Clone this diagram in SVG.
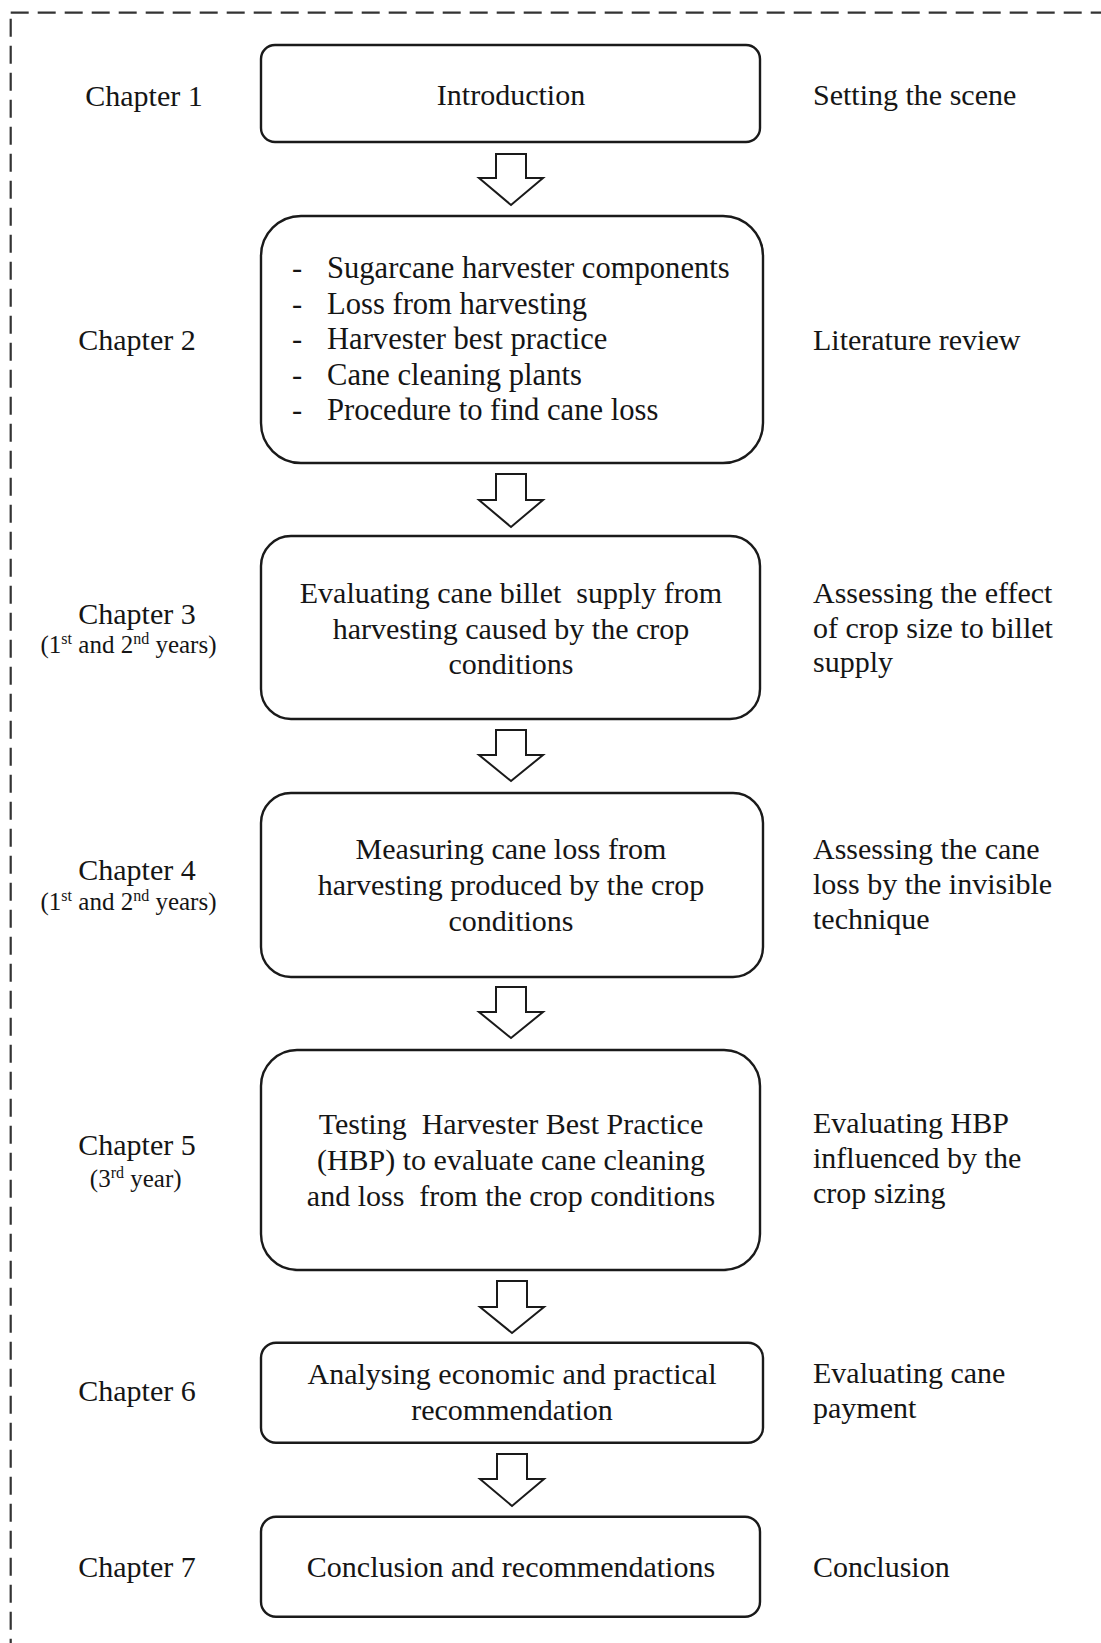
<svg xmlns="http://www.w3.org/2000/svg" width="1101" height="1643" viewBox="0 0 1101 1643">
<style>
text{font-family:"Liberation Serif","Times New Roman",serif;font-size:30px;fill:#151515}
.lbl{text-anchor:middle}
.mid{text-anchor:middle}
.sub{font-size:25px}
.li{font-size:30.6px}
.box{fill:#fff;stroke:#1a1a1a;stroke-width:2.4}
.arr{fill:#fff;stroke:#1a1a1a;stroke-width:2;stroke-linejoin:miter}
.frame{fill:none;stroke:#333;stroke-width:2.2;stroke-dasharray:18 9}
</style>
<rect width="1101" height="1643" fill="#fff"/>
<g id="frame">
<line class="frame" x1="10.7" y1="12.7" x2="1101" y2="12.7"/>
<line class="frame" x1="10.7" y1="12.7" x2="10.7" y2="1643" stroke-dashoffset="-6"/>
</g>
<g id="connectors">
<path class="arr" d="M496 154H526V178H543L511 205L479 178H496Z"/>
<path class="arr" d="M496 474H526V500H543L511 527L479 500H496Z"/>
<path class="arr" d="M496 730H526V755H543L511 781L479 755H496Z"/>
<path class="arr" d="M496 987H526V1012H543L511 1038L479 1012H496Z"/>
<path class="arr" d="M497 1281H527V1307H544L512 1333L480 1307H497Z"/>
<path class="arr" d="M497 1454H527V1479H544L512 1506L480 1479H497Z"/>
</g>
<g id="ch1">
<text class="lbl" x="144" y="106">Chapter 1</text>
<rect class="box" x="261" y="45" width="499" height="97" rx="14"/>
<text class="mid" x="511" y="105">Introduction</text>
<text x="813" y="105">Setting the scene</text>
</g>
<g id="ch2">
<text class="lbl" x="137" y="350">Chapter 2</text>
<rect class="box" x="261" y="216" width="502" height="247" rx="40"/>
<text class="li" x="292" y="278">-</text><text class="li" x="327" y="278">Sugarcane harvester components</text>
<text class="li" x="292" y="313.5">-</text><text class="li" x="327" y="313.5">Loss from harvesting</text>
<text class="li" x="292" y="349">-</text><text class="li" x="327" y="349">Harvester best practice</text>
<text class="li" x="292" y="384.5">-</text><text class="li" x="327" y="384.5">Cane cleaning plants</text>
<text class="li" x="292" y="420">-</text><text class="li" x="327" y="420">Procedure to find cane loss</text>
<text x="813" y="350">Literature review</text>
</g>
<g id="ch3">
<text class="lbl" x="137" y="624">Chapter 3</text>
<text class="lbl sub" x="128.5" y="653">(1<tspan font-size="16" dy="-9">st</tspan><tspan dy="9"> and 2</tspan><tspan font-size="16" dy="-9">nd</tspan><tspan dy="9"> years)</tspan></text>
<rect class="box" x="261" y="536" width="499" height="183" rx="30"/>
<text class="mid" x="511" y="603" xml:space="preserve">Evaluating cane billet  supply from</text>
<text class="mid" x="511" y="638.5">harvesting caused by the crop</text>
<text class="mid" x="511" y="674">conditions</text>
<text x="813" y="603">Assessing the effect</text>
<text x="813" y="637.5">of crop size to billet</text>
<text x="813" y="672">supply</text>
</g>
<g id="ch4">
<text class="lbl" x="137" y="880">Chapter 4</text>
<text class="lbl sub" x="128.5" y="910">(1<tspan font-size="16" dy="-9">st</tspan><tspan dy="9"> and 2</tspan><tspan font-size="16" dy="-9">nd</tspan><tspan dy="9"> years)</tspan></text>
<rect class="box" x="261" y="793" width="502" height="184" rx="30"/>
<text class="mid" x="511" y="859">Measuring cane loss from</text>
<text class="mid" x="511" y="895">harvesting produced by the crop</text>
<text class="mid" x="511" y="930.5">conditions</text>
<text x="813" y="859">Assessing the cane</text>
<text x="813" y="894">loss by the invisible</text>
<text x="813" y="929">technique</text>
</g>
<g id="ch5">
<text class="lbl" x="137" y="1155">Chapter 5</text>
<text class="lbl sub" x="135.7" y="1187">(3<tspan font-size="16" dy="-9">rd</tspan><tspan dy="9"> year)</tspan></text>
<rect class="box" x="261" y="1050" width="499" height="220" rx="36"/>
<text class="mid" x="511" y="1134" xml:space="preserve">Testing  Harvester Best Practice</text>
<text class="mid" x="511" y="1170">(HBP) to evaluate cane cleaning</text>
<text class="mid" x="511" y="1205.5" xml:space="preserve">and loss  from the crop conditions</text>
<text x="813" y="1133">Evaluating HBP</text>
<text x="813" y="1168">influenced by the</text>
<text x="813" y="1203">crop sizing</text>
</g>
<g id="ch6">
<text class="lbl" x="137" y="1401">Chapter 6</text>
<rect class="box" x="261" y="1342.7" width="502" height="100" rx="15"/>
<text class="mid" x="512" y="1384">Analysing economic and practical</text>
<text class="mid" x="512" y="1420">recommendation</text>
<text x="813" y="1383">Evaluating cane</text>
<text x="813" y="1418">payment</text>
</g>
<g id="ch7">
<text class="lbl" x="137" y="1577">Chapter 7</text>
<rect class="box" x="261" y="1516.7" width="499" height="100" rx="15"/>
<text class="mid" x="511" y="1577">Conclusion and recommendations</text>
<text x="813" y="1577">Conclusion</text>
</g>
</svg>
